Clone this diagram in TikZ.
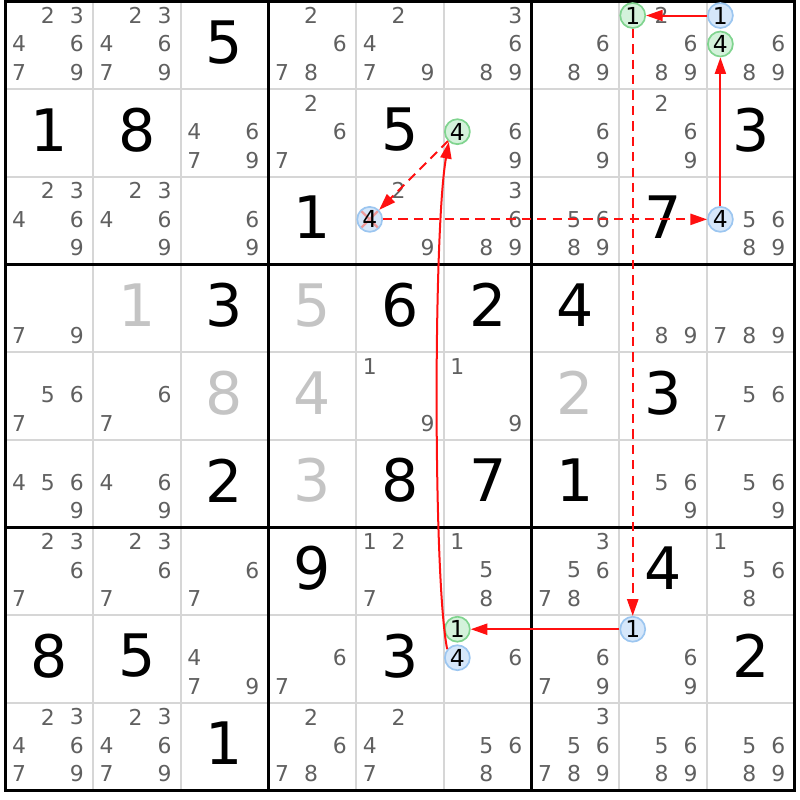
\documentclass[tikz,border=0pt]{standalone}
\usepackage{fontspec}
\setmainfont{DejaVu Sans}
\usepackage{tikz}
\usetikzlibrary{arrows.meta}
\definecolor{candgray}{HTML}{606060}
\definecolor{solvedgray}{HTML}{C4C4C4}
\definecolor{gridgray}{HTML}{D6D6D6}
\definecolor{bluefill}{HTML}{D6E7FA}
\definecolor{blueline}{HTML}{9CC6F0}
\definecolor{greenfill}{HTML}{D4F2DB}
\definecolor{greenline}{HTML}{80D48F}
\definecolor{linkred}{HTML}{FF1010}
\definecolor{xpink}{HTML}{EE9A9A}
\tikzset{cand/.style = {text=candgray, inner sep=0, font=\fontsize{7.1}{8}\selectfont}}
\tikzset{digit/.style = {inner sep=0, yshift=1pt, font=\fontsize{19}{22}\selectfont}}
\tikzset{solved/.style = {digit, text=solvedgray}}
\tikzset{bluecand/.style = {circle, draw=blueline, fill=bluefill, line width=0.55pt,
                            minimum size=0.285cm, inner sep=0, font=\fontsize{7.6}{8}\selectfont}}
\tikzset{greencand/.style = {bluecand, draw=greenline, fill=greenfill}}
\tikzset{struck/.style = {path picture={
    \draw[xpink, line width=0.75pt]
      (path picture bounding box.north west) -- (path picture bounding box.south east)
      (path picture bounding box.north east) -- (path picture bounding box.south west);}}}
\tikzset{stronglink/.style = {linkred, line width=0.65pt, -{Triangle[length=5.4pt, width=3.6pt]}}}
\tikzset{weaklink/.style = {stronglink, dash pattern=on 3pt off 2pt}}

% row, column, list of candidates
\newcommand{\cands}[3]{%
  \foreach \n in {#3} {
    \pgfmathsetmacro{\cx}{#2-0.845+0.33*mod(\n-1,3)}
    \pgfmathsetmacro{\cy}{-#1+0.84-0.325*floor((\n-1)/3)}
    \node[cand] (c#1#2\n) at (\cx,\cy) {\n};
  }}
% style, row, column, candidate
\newcommand{\hcand}[4]{%
  \pgfmathsetmacro{\cx}{#3-0.845+0.33*mod(#4-1,3)}
  \pgfmathsetmacro{\cy}{-#2+0.84-0.325*floor((#4-1)/3)}
  \node[#1] (h#2#3#4) at (\cx,\cy) {#4};}
\newcommand{\clue}[4][digit]{\node[#1] (d#2#3) at (#3-0.5,-#2+0.5) {#4};}

\begin{document}
\begin{tikzpicture}
  \useasboundingbox (-0.062,0.017) rectangle (9.052,-9.108);

  \foreach \i in {0,...,9} {
    \draw[gridgray, line width=0.65pt] (\i,0) -- (\i,-9);
    \draw[gridgray, line width=0.65pt] (0,-\i) -- (9,-\i);
  }
  \foreach \i in {3,6} {
    \draw[line width=1pt] (\i,0) -- (\i,-9);
    \draw[line width=1pt] (0,-\i) -- (9,-\i);
  }
  \draw[line width=1.1pt] (0,0) rectangle (9,-9);

  % row 1
  \cands{1}{1}{2,3,4,6,7,9}
  \cands{1}{2}{2,3,4,6,7,9}
  \clue{1}{3}{5}
  \cands{1}{4}{2,6,7,8}
  \cands{1}{5}{2,4,7,9}
  \cands{1}{6}{3,6,8,9}
  \cands{1}{7}{6,8,9}
  \cands{1}{8}{2,6,8,9}
  \cands{1}{9}{6,8,9}
  % row 2
  \clue{2}{1}{1}
  \clue{2}{2}{8}
  \cands{2}{3}{4,6,7,9}
  \cands{2}{4}{2,6,7}
  \clue{2}{5}{5}
  \cands{2}{6}{6,9}
  \cands{2}{7}{6,9}
  \cands{2}{8}{2,6,9}
  \clue{2}{9}{3}
  % row 3
  \cands{3}{1}{2,3,4,6,9}
  \cands{3}{2}{2,3,4,6,9}
  \cands{3}{3}{6,9}
  \clue{3}{4}{1}
  \cands{3}{5}{2,9}
  \cands{3}{6}{3,6,8,9}
  \cands{3}{7}{5,6,8,9}
  \clue{3}{8}{7}
  \cands{3}{9}{5,6,8,9}
  % row 4
  \cands{4}{1}{7,9}
  \clue[solved]{4}{2}{1}
  \clue{4}{3}{3}
  \clue[solved]{4}{4}{5}
  \clue{4}{5}{6}
  \clue{4}{6}{2}
  \clue{4}{7}{4}
  \cands{4}{8}{8,9}
  \cands{4}{9}{7,8,9}
  % row 5
  \cands{5}{1}{5,6,7}
  \cands{5}{2}{6,7}
  \clue[solved]{5}{3}{8}
  \clue[solved]{5}{4}{4}
  \cands{5}{5}{1,9}
  \cands{5}{6}{1,9}
  \clue[solved]{5}{7}{2}
  \clue{5}{8}{3}
  \cands{5}{9}{5,6,7}
  % row 6
  \cands{6}{1}{4,5,6,9}
  \cands{6}{2}{4,6,9}
  \clue{6}{3}{2}
  \clue[solved]{6}{4}{3}
  \clue{6}{5}{8}
  \clue{6}{6}{7}
  \clue{6}{7}{1}
  \cands{6}{8}{5,6,9}
  \cands{6}{9}{5,6,9}
  % row 7
  \cands{7}{1}{2,3,6,7}
  \cands{7}{2}{2,3,6,7}
  \cands{7}{3}{6,7}
  \clue{7}{4}{9}
  \cands{7}{5}{1,2,7}
  \cands{7}{6}{1,5,8}
  \cands{7}{7}{3,5,6,7,8}
  \clue{7}{8}{4}
  \cands{7}{9}{1,5,6,8}
  % row 8
  \clue{8}{1}{8}
  \clue{8}{2}{5}
  \cands{8}{3}{4,7,9}
  \cands{8}{4}{6,7}
  \clue{8}{5}{3}
  \cands{8}{6}{6}
  \cands{8}{7}{6,7,9}
  \cands{8}{8}{6,9}
  \clue{8}{9}{2}
  % row 9
  \cands{9}{1}{2,3,4,6,7,9}
  \cands{9}{2}{2,3,4,6,7,9}
  \clue{9}{3}{1}
  \cands{9}{4}{2,6,7,8}
  \cands{9}{5}{2,4,7}
  \cands{9}{6}{5,6,8}
  \cands{9}{7}{3,5,6,7,8,9}
  \cands{9}{8}{5,6,8,9}
  \cands{9}{9}{5,6,8,9}

  % chain
  \hcand{greencand}{1}{8}{1}
  \hcand{bluecand}{1}{9}{1}
  \hcand{greencand}{1}{9}{4}
  \hcand{greencand}{2}{6}{4}
  \hcand{bluecand, struck}{3}{5}{4}
  \hcand{bluecand}{3}{9}{4}
  \hcand{greencand}{8}{6}{1}
  \hcand{bluecand}{8}{6}{4}
  \hcand{bluecand}{8}{8}{1}

  \draw[stronglink] (h191) -- (h181);
  \draw[weaklink] (h181) -- (h881);
  \draw[stronglink] (h881) -- (h861);
  \draw[stronglink] (h864.140) .. controls (4.88,-6.6) and (4.88,-2.6) .. (h264.230);
  \draw[weaklink] (h264) -- (h354);
  \draw[weaklink] (h354) -- (h394);
  \draw[stronglink] (h394) -- (h194);
\end{tikzpicture}
\end{document}
